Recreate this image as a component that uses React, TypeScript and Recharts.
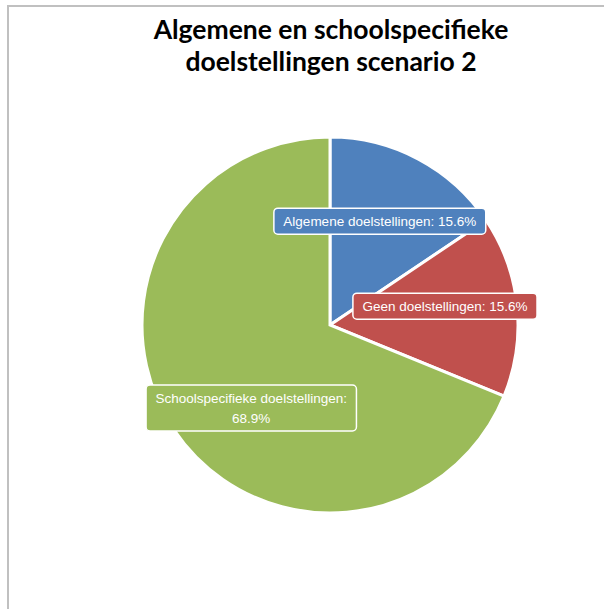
import React from "react";
import { PieChart, Pie, Cell } from "recharts";

const titleLines = ["Algemene en schoolspecifieke", "doelstellingen scenario 2"];
const categories = ["Algemene doelstellingen", "Geen doelstellingen", "Schoolspecifieke doelstellingen"];
const values = [15.6, 15.6, 68.9];
const colors = ["#4F81BD", "#C0504D", "#9BBB59"];

// small label nudges (style only), in px
const labelNudge = [
  [-5, -1],
  [-1, -7],
  [18, 18],
];

const data = categories.map((name, i) => ({ name, value: values[i] }));

const LABEL_FONT = '13.5px "Liberation Sans", Arial, sans-serif';
let ctx: CanvasRenderingContext2D | null = null;
function measure(text: string): number {
  if (!ctx) {
    const c = document.createElement("canvas");
    ctx = c.getContext("2d");
  }
  if (!ctx) return text.length * 6.8;
  ctx.font = LABEL_FONT;
  return ctx.measureText(text).width;
}

const RAD = Math.PI / 180;

function renderLabel(props: any) {
  const { cx, cy, midAngle, outerRadius, index, name, value } = props;
  const r = outerRadius * 0.62;
  const x = cx + r * Math.cos(-midAngle * RAD) + labelNudge[index][0];
  const y = cy + r * Math.sin(-midAngle * RAD) + labelNudge[index][1];
  const full = `${name}: ${Number(value).toFixed(1)}%`;
  const lines = full.length > 32 ? [`${name}:`, `${Number(value).toFixed(1)}%`] : [full];
  const w = Math.max(...lines.map(measure)) + 19;
  const lineH = 20;
  const h = lines.length * lineH + 6;
  return (
    <g key={`lbl-${index}`}>
      <rect
        x={x - w / 2}
        y={y - h / 2}
        width={w}
        height={h}
        rx={4}
        ry={4}
        fill={colors[index]}
        stroke="#ffffff"
        strokeWidth={1.5}
      />
      {lines.map((ln, i) => (
        <text
          key={i}
          x={x}
          y={y + (i - (lines.length - 1) / 2) * lineH}
          textAnchor="middle"
          dominantBaseline="central"
          fill="#ffffff"
          style={{ font: LABEL_FONT }}
        >
          {ln}
        </text>
      ))}
    </g>
  );
}

export default function App() {
  return (
    <div
      style={{
        position: "absolute",
        left: 0,
        top: 0,
        width: 604,
        height: 609,
        overflow: "hidden",
        background: "#ffffff",
      }}
    >
      <div
        style={{
          position: "absolute",
          left: 7,
          top: 5,
          width: 700,
          height: 700,
          borderLeft: "2px solid #c0c0c0",
          borderTop: "2px solid #c0c0c0",
        }}
      />
      <div
        style={{
          position: "absolute",
          left: 31,
          width: 600,
          top: 13,
          textAlign: "center",
          fontFamily: "Lato, 'Open Sans', sans-serif",
          fontWeight: 700,
          fontSize: 26.5,
          lineHeight: "32px",
          color: "#000000",
        }}
      >
        {titleLines.map((t, i) => (
          <div key={i}>{t}</div>
        ))}
      </div>
      <div style={{ position: "absolute", left: 0, top: 0 }}>
        <PieChart width={604} height={609} margin={{ top: 0, right: 0, bottom: 0, left: 0 }}>
          <Pie
            data={data}
            dataKey="value"
            nameKey="name"
            cx={330}
            cy={325}
            outerRadius={188}
            startAngle={90}
            endAngle={-270}
            stroke="#ffffff"
            strokeWidth={3}
            label={renderLabel}
            labelLine={false}
            isAnimationActive={false}
          >
            {data.map((d, i) => (
              <Cell key={d.name} fill={colors[i]} />
            ))}
          </Pie>
        </PieChart>
      </div>
    </div>
  );
}
